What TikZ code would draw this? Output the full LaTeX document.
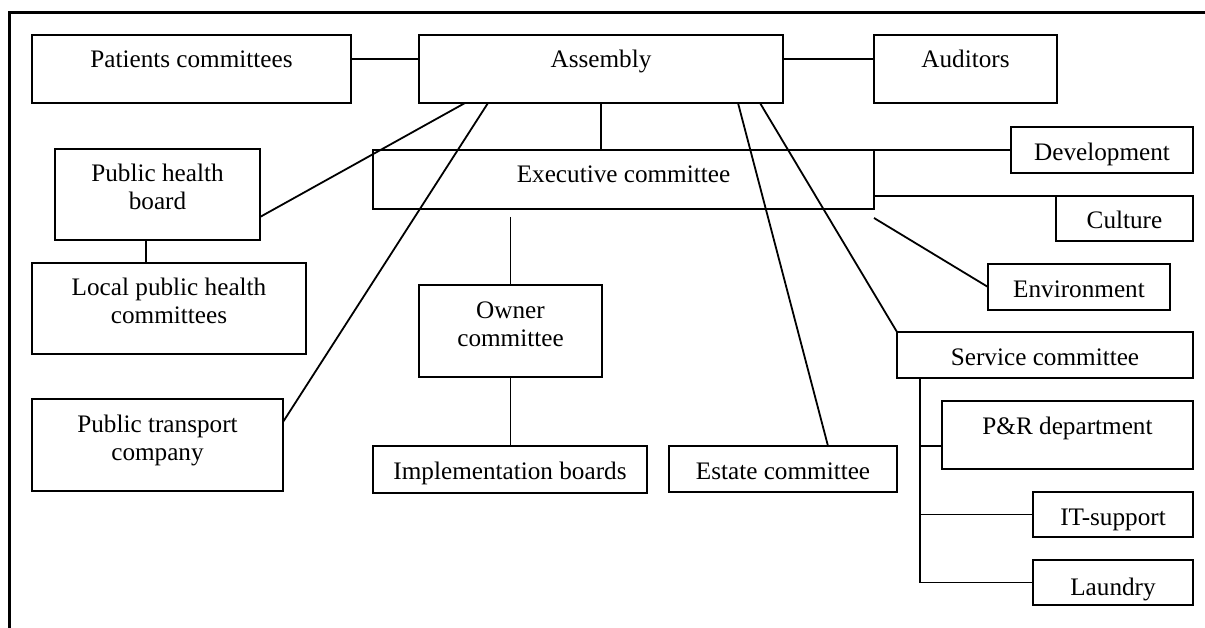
\documentclass[tikz,border=0pt]{standalone}
\usepackage{fontspec}
\setmainfont{Liberation Serif}
\usetikzlibrary{calc}

% box text: width, height, first-baseline offset from the top, lines
\newcommand\celltext[4]{\parbox[t][#2pt][t]{#1pt}{\centering\baselineskip=28pt\rule{0pt}{#3pt}#4}}

\tikzset{
  unit/.style={draw, line width=1.9pt, inner sep=0pt, outer sep=0pt, anchor=north west,
    font=\fontsize{25.2}{28}\selectfont},
  link/.style={line width=1.8pt}
}

\begin{document}
\begin{tikzpicture}[x=1pt, y=-1pt, line join=miter]
\useasboundingbox (0,0) rectangle (1205,628);

% outer frame, running off the right and bottom edges
\draw[line width=2.2pt] (1205,12.5) -- (9.5,12.5) -- (9.5,628);

% top row
\node[unit] (pat) at (32,35)   {\celltext{319}{68}{33}{Patients committees}};
\node[unit] (asm) at (419,35)  {\celltext{364}{68}{33}{Assembly}};
\node[unit] (aud) at (874,35)  {\celltext{183}{68}{33}{Auditors}};

% left column
\node[unit] (phb) at (55,149)  {\celltext{205}{91}{33}{Public health\\board}};
\node[unit] (lph) at (32,263)  {\celltext{274}{91}{33}{Local public health\\committees}};
\node[unit] (ptc) at (32,399)  {\celltext{251}{92}{33}{Public transport\\company}};

% centre
\node[unit] (exe) at (373,150) {\celltext{501}{59}{33}{Executive committee}};
\node[unit] (own) at (419,285) {\celltext{183}{92}{34}{Owner\\committee}};
\node[unit] (imp) at (373,446) {\celltext{274}{47}{33}{Implementation boards}};
\node[unit] (est) at (669,446) {\celltext{228}{46}{33}{Estate committee}};

% right side
\node[unit] (dev) at (1011,127) {\celltext{182}{46}{34}{Development}};
\node[unit] (cul) at (1056,196) {\celltext{137}{45}{33}{Culture}};
\node[unit] (env) at (988,264)  {\celltext{182}{46}{34}{Environment}};
\node[unit] (svc) at (897,332)  {\celltext{296}{46}{33}{Service committee}};
\node[unit] (pr)  at (942,401)  {\celltext{251}{68}{33}{P\&R department}};
\node[unit] (it)  at (1033,492) {\celltext{160}{45}{33}{IT-support}};
\node[unit] (lau) at (1033,560) {\celltext{160}{45}{35}{Laundry}};

% assembly links
\draw[link] ($(pat.north east)+(0,24)$) -- ($(asm.north west)+(0,24)$);
\draw[link] ($(asm.north east)+(0,24)$) -- ($(aud.north west)+(0,24)$);
\draw[link] (asm.south) -- (asm.south |- exe.north);
\draw[link] ($(phb.north east)+(0,68)$) -- ($(asm.south west)+(46,0)$);
\draw[link] ($(ptc.north east)+(0,23)$) -- ($(asm.south west)+(69,0)$);
\draw[link] ($(asm.south west)+(319,0)$) -- ($(est.north west)+(159,0)$);
\draw[link] ($(asm.south west)+(341,0)$) -- (svc.north west);

% public health
\coordinate (ph) at ($(phb.south west)+(91,0)$);
\draw[link] (ph) -- (ph |- lph.north);

% executive committee links
\draw[link] ($(exe.north east)+(-23,0)$) -- (dev.west);
\draw[link] (exe.east |- cul.north) -- (cul.north west);
\draw[link] ($(exe.south east)+(0,9)$) -- (env.west);
\draw[link] ($(own.north)+(0,-68)$) -- (own.north);
\draw[link] (own.south) -- (own.south |- imp.north);

% service committee tree
\coordinate (sv) at ($(svc.south west)+(23,0)$);
\draw[link] (sv) -- (sv |- lau.west) -- (lau.west);
\coordinate (prb) at ($(pr.north west)+(0,45)$);
\draw[link] (sv |- prb) -- (prb);
\draw[link] (sv |- it.west) -- (it.west);
\end{tikzpicture}
\end{document}
